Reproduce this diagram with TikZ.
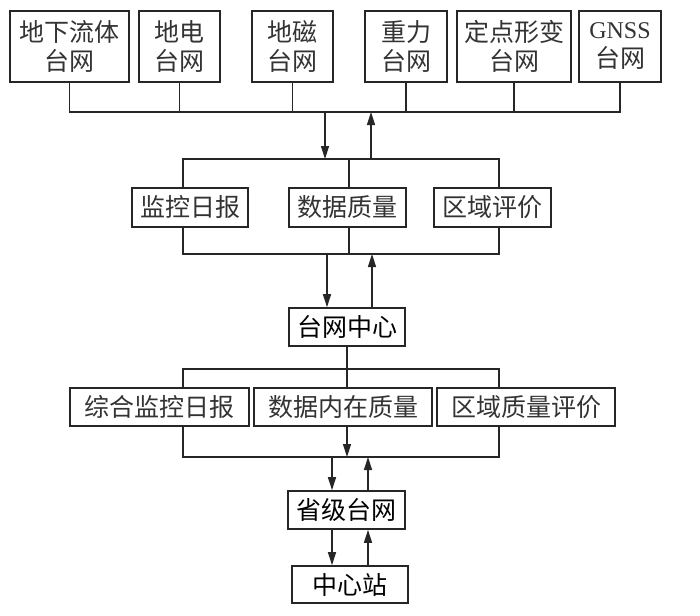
\documentclass[tikz,border=0pt]{standalone}
\usepackage{fontspec}
\setmainfont{Liberation Serif}
\newfontfamily\cjk{Noto Sans CJK SC}
\usetikzlibrary{arrows.meta}
\begin{document}
\begin{tikzpicture}[x=1pt,y=-1pt,
  box/.style={draw=black!85, line width=1.6pt, inner sep=0pt, text=black!80,
    font=\cjk\fontsize{25}{29}\selectfont, align=center},
  keybox/.style={box, text=black},
  conn/.style={line width=1.4pt, draw=black!85},
  arr/.style={conn, -{Triangle[length=13pt,width=8pt]}}]
\useasboundingbox (0,0) rectangle (700,615);
% top row
\node[box, minimum width=119pt, minimum height=71pt] (t1) at (69.5,46.5) {地下流体\\台网};
\node[box, minimum width=81pt, minimum height=71pt] (t2) at (179.5,46.5) {地电\\台网};
\node[box, minimum width=81pt, minimum height=71pt] (t3) at (292.5,46.5) {地磁\\台网};
\node[box, minimum width=82pt, minimum height=71pt] (t4) at (406,46.5) {重力\\台网};
\node[box, minimum width=114pt, minimum height=71pt] (t5) at (514,46.5) {定点形变\\台网};
\node[box, minimum width=82pt, minimum height=71pt] (t6) at (620,46.5) {{\rmfamily\fontsize{24}{29}\selectfont GNSS}\\台网};
% middle row
\node[box, minimum width=116pt, minimum height=39pt] (m1) at (190,207.5) {监控日报};
\node[box, minimum width=117pt, minimum height=39pt] (m2) at (347.5,207.5) {数据质量};
\node[box, minimum width=117pt, minimum height=39pt] (m3) at (492.5,207.5) {区域评价};
% centre
\node[keybox, minimum width=116pt, minimum height=38pt] (tw) at (347,327) {台网中心};
% lower row
\node[box, minimum width=179pt, minimum height=38pt] (l1) at (159.5,407) {综合监控日报};
\node[box, minimum width=178pt, minimum height=38pt] (l2) at (343,407) {数据内在质量};
\node[box, minimum width=178pt, minimum height=38pt] (l3) at (526,407) {区域质量评价};
% bottom
\node[keybox, minimum width=117pt, minimum height=38pt] (sj) at (346.5,510) {省级台网};
\node[keybox, minimum width=116pt, minimum height=37pt] (zx) at (350,584.5) {中心站};
% helper coordinates
\coordinate (yb1) at (0,112);
\coordinate (mb1) at (0,159);
\coordinate (mb2) at (0,254);
\coordinate (lb1) at (0,369);
\coordinate (lb2) at (0,457);
\coordinate (xl) at (183,0);
\coordinate (xc) at (349,0);
\coordinate (xr) at (499,0);
\coordinate (xa) at (325,0);
\coordinate (xb) at (371,0);
\coordinate (xa2) at (327,0);
\coordinate (xb2) at (372,0);
\coordinate (xd) at (332,0);
\coordinate (xu) at (368,0);
% top bus
\draw[conn] (t1.south) |- (t6.south |- yb1) -- (t6.south);
\foreach \n in {t2,t3,t4,t5} \draw[conn] (\n.south) -- (\n.south |- yb1);
\draw[arr] (xa |- yb1) -- (xa |- mb1);
\draw[arr] (xb |- mb1) -- (xb |- yb1);
% middle buses
\draw[conn] (m1.north -| xl) -- (xl |- mb1) -- (xr |- mb1) -- (m3.north -| xr);
\draw[conn] (m2.north -| xc) -- (xc |- mb1);
\draw[conn] (m1.south -| xl) -- (xl |- mb2) -- (xr |- mb2) -- (m3.south -| xr);
\draw[conn] (m2.south -| xc) -- (xc |- mb2);
\draw[arr] (xa2 |- mb2) -- (xa2 |- tw.north);
\draw[arr] (xb2 |- tw.north) -- (xb2 |- mb2);
% lower buses
\draw[conn] (tw.south) -- (tw.south |- l2.north);
\draw[conn] (l1.north -| xl) -- (xl |- lb1) -- (xr |- lb1) -- (l3.north -| xr);
\draw[conn] (l1.south -| xl) -- (xl |- lb2) -- (xr |- lb2) -- (l3.south -| xr);
\draw[arr] (l2.south -| tw.south) -- (tw.south |- lb2);
% bottom arrows
\draw[arr] (xd |- lb2) -- (xd |- sj.north);
\draw[arr] (xu |- sj.north) -- (xu |- lb2);
\draw[arr] (xd |- sj.south) -- (xd |- zx.north);
\draw[arr] (xu |- zx.north) -- (xu |- sj.south);
\end{tikzpicture}
\end{document}
